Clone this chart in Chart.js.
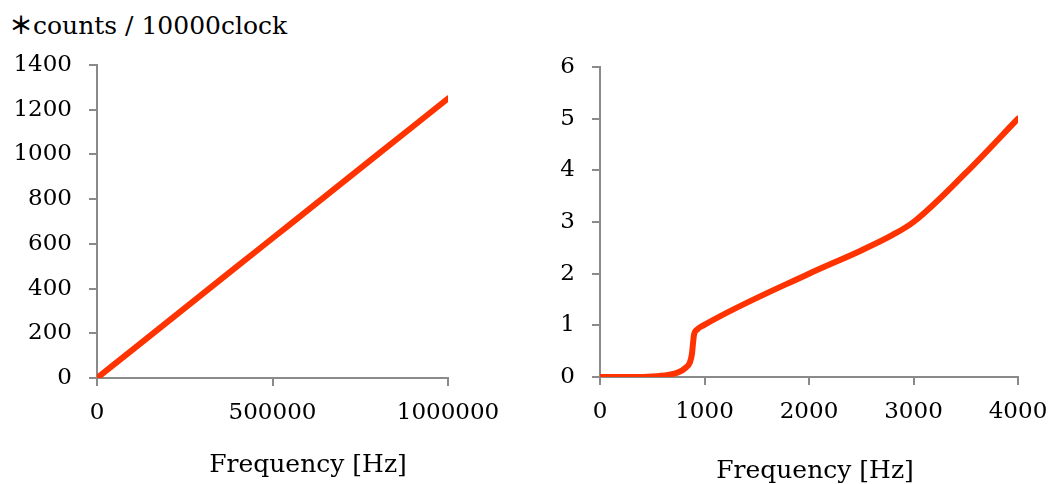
<!DOCTYPE html>
<html>
<head>
<meta charset="utf-8">
<script src="https://cdn.jsdelivr.net/npm/chart.js@4.4.1/dist/chart.umd.min.js"></script>
<style>
  html, body { margin: 0; padding: 0; background: #fff; }
  body { width: 1049px; height: 484px; position: relative; overflow: hidden; font-family: "DejaVu Serif", serif; color: #000; }
  #c1 { position: absolute; left: 0; top: 0; }
  #c2 { position: absolute; left: 520px; top: 0; }
  .lbl { position: absolute; font-size: 25px; white-space: nowrap; line-height: 1; }
  .ast { font-family: "Noto Sans CJK JP", sans-serif; font-size: 24px; font-weight: bold; }
</style>
</head>
<body>
<div class="lbl" id="unit" style="left:9px; top:12px;"><span class="ast">＊</span>counts / 10000clock</div>
<canvas id="c1" width="520" height="484"></canvas>
<canvas id="c2" width="529" height="484"></canvas>
<div class="lbl" style="left:308px; top:451px; transform:translateX(-50%);">Frequency [Hz]</div>
<div class="lbl" style="left:815px; top:457px; transform:translateX(-50%);">Frequency [Hz]</div>
<script>
// Left chart: counts vs frequency (wide range)
const leftFreq   = [0, 100000, 200000, 300000, 400000, 500000, 600000, 700000, 800000, 900000, 1000000];
const leftCounts = [0, 125, 250, 375, 500, 625, 750, 875, 1000, 1125, 1250];
const leftYTicks = [0, 200, 400, 600, 800, 1000, 1200, 1400];
const leftXTicks = [0, 500000, 1000000];

// Right chart: counts vs frequency (low range)
const rightFreq   = [0, 300, 500, 650, 750, 820, 860, 880, 890, 900, 930, 990, 2000, 2500, 2800, 3000, 3500, 4000];
const rightCounts = [0, 0, 0.01, 0.04, 0.09, 0.18, 0.28, 0.45, 0.65, 0.82, 0.92, 1.0, 2.0, 2.45, 2.75, 3.0, 3.95, 5.0];
const rightYTicks = [0, 1, 2, 3, 4, 5, 6];
const rightXTicks = [0, 1000, 2000, 3000, 4000];

const AXIS = '#8a8a8a';
const LINE = '#ff3300';
const FONT = { family: '"DejaVu Serif", serif', size: 23 };

function pts(xs, ys) { return xs.map((x, i) => ({ x: x, y: ys[i] })); }

function makeChart(id, xs, ys, xt, yt, yw, pad) {
  const ctx = document.getElementById(id);
  return new Chart(ctx, {
    type: 'scatter',
    data: { datasets: [{
      data: pts(xs, ys),
      showLine: true,
      borderColor: LINE,
      backgroundColor: LINE,
      borderWidth: 6,
      borderCapStyle: 'round',
      borderJoinStyle: 'round',
      pointRadius: 0,
      cubicInterpolationMode: 'monotone'
    }]},
    options: {
      responsive: false,
      animation: false,
      devicePixelRatio: 1,
      layout: { padding: pad },
      plugins: { legend: { display: false }, tooltip: { enabled: false } },
      scales: {
        x: {
          type: 'linear',
          min: xt[0], max: xt[xt.length - 1],
          afterBuildTicks: s => { s.ticks = xt.map(v => ({ value: v })); },
          afterFit: s => { s.height = 100; s.paddingLeft = 0; s.paddingRight = 0; },
          grid: { drawOnChartArea: false, drawTicks: true, tickLength: 8, color: AXIS, lineWidth: 2 },
          border: { display: true, color: AXIS, width: 2 },
          ticks: { font: FONT, color: '#000', padding: 13, maxRotation: 0, autoSkip: false, callback: v => String(v) }
        },
        y: {
          type: 'linear',
          min: yt[0], max: yt[yt.length - 1],
          afterBuildTicks: s => { s.ticks = yt.map(v => ({ value: v })); },
          afterFit: s => { s.width = yw; s.paddingTop = 0; s.paddingBottom = 0; },
          grid: { drawOnChartArea: false, drawTicks: true, tickLength: 8, color: AXIS, lineWidth: 2 },
          border: { display: true, color: AXIS, width: 2 },
          ticks: { font: FONT, color: '#000', padding: 17, autoSkip: false, callback: v => String(v) }
        }
      }
    }
  });
}

makeChart('c1', leftFreq, leftCounts, leftXTicks, leftYTicks, 97, { left: 0, right: 72, top: 65, bottom: 6 });
makeChart('c2', rightFreq, rightCounts, rightXTicks, rightYTicks, 80, { left: 0, right: 31, top: 67, bottom: 7 });
</script>
</body>
</html>
